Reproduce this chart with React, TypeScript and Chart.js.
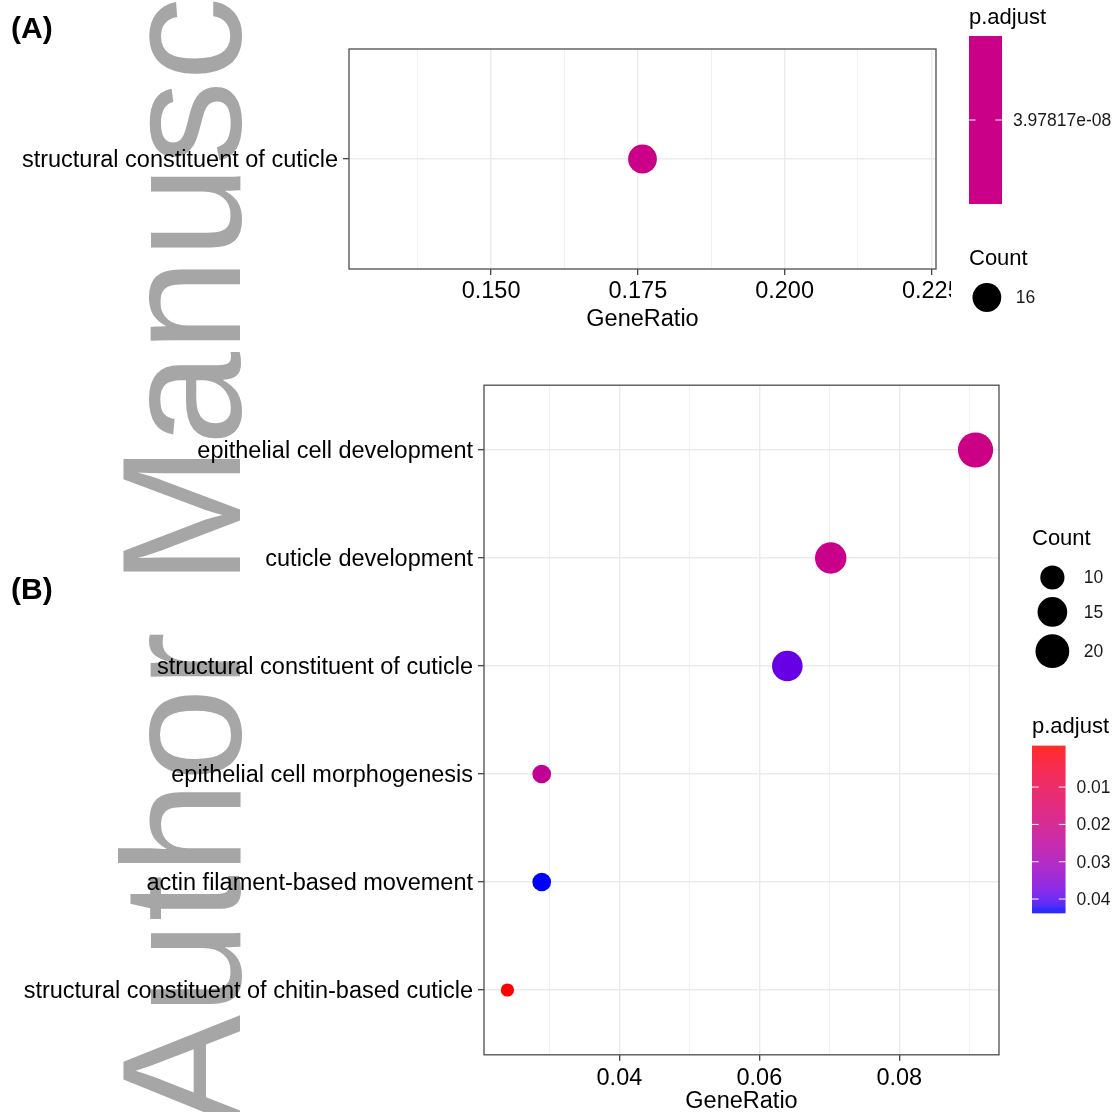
import React, { useEffect, useRef } from "react";
import { Chart, registerables } from "chart.js";

Chart.register(...registerables);

const FONT = "'Liberation Sans', Arial, Helvetica, sans-serif";

// ---------- Panel (A) ----------
const termsA = ["structural constituent of cuticle"];
const geneRatioA = [0.1758];
const countA = [16];
const padjA = [3.97817e-8];
const padjLabelsA = ["3.97817e-08"];
const xMajorA = [0.15, 0.175, 0.2, 0.225];
const xMinorA = [0.1375, 0.1625, 0.1875, 0.2125];
const xLimitsA = [0.1258, 0.2258];

// ---------- Panel (B) ----------
const termsB = [
  "epithelial cell development",
  "cuticle development",
  "structural constituent of cuticle",
  "epithelial cell morphogenesis",
  "actin filament-based movement",
  "structural constituent of chitin-based cuticle",
];
const geneRatioB = [0.0909, 0.0702, 0.064, 0.0289, 0.0289, 0.024];
const countB = [22, 17, 16, 7, 7, 6];
const padjB = [0.0205, 0.0215, 0.0384, 0.0235, 0.0427, 0.00003];
const xMajorB = [0.04, 0.06, 0.08];
const xMinorB = [0.03, 0.05, 0.07, 0.09];
const xLimitsB = [0.02065, 0.09425];
const countBreaksB = [10, 15, 20];
const padjBreaksB = [0.01, 0.02, 0.03, 0.04];
const padjLabelsB = ["0.01", "0.02", "0.03", "0.04"];

// ---------- colour: Lab interpolation red -> blue (ggplot style) ----------
function toLin(c: number) {
  c /= 255;
  return c <= 0.04045 ? c / 12.92 : Math.pow((c + 0.055) / 1.055, 2.4);
}
function fromLin(v: number) {
  v = Math.max(0, Math.min(1, v));
  const c = v <= 0.0031308 ? 12.92 * v : 1.055 * Math.pow(v, 1 / 2.4) - 0.055;
  return Math.round(Math.max(0, Math.min(1, c)) * 255);
}
const XN = 0.95047, ZN = 1.08883;
function rgbToLab(rgb: number[]) {
  const R = toLin(rgb[0]), G = toLin(rgb[1]), B = toLin(rgb[2]);
  const X = (0.4124 * R + 0.3576 * G + 0.1805 * B) / XN;
  const Y = 0.2126 * R + 0.7152 * G + 0.0722 * B;
  const Z = (0.0193 * R + 0.1192 * G + 0.9505 * B) / ZN;
  const f = (t: number) => (t > 0.008856 ? Math.cbrt(t) : 7.787 * t + 16 / 116);
  const fx = f(X), fy = f(Y), fz = f(Z);
  return [116 * fy - 16, 500 * (fx - fy), 200 * (fy - fz)];
}
function labToRgb(lab: number[]) {
  const fy = (lab[0] + 16) / 116;
  const fx = fy + lab[1] / 500;
  const fz = fy - lab[2] / 200;
  const inv = (t: number) => (t * t * t > 0.008856 ? t * t * t : (t - 16 / 116) / 7.787);
  const X = inv(fx) * XN, Y = inv(fy), Z = inv(fz) * ZN;
  const R = 3.2406 * X - 1.5372 * Y - 0.4986 * Z;
  const G = -0.9689 * X + 1.8758 * Y + 0.0415 * Z;
  const B = 0.0557 * X - 0.204 * Y + 1.057 * Z;
  return [fromLin(R), fromLin(G), fromLin(B)];
}
const LAB_LOW = rgbToLab([255, 0, 0]);
const LAB_HIGH = rgbToLab([0, 0, 255]);
function gradColor(t: number) {
  t = Math.max(0, Math.min(1, t));
  const lab = LAB_LOW.map((v, i) => v + (LAB_HIGH[i] - v) * t);
  const c = labToRgb(lab);
  return `rgb(${c[0]},${c[1]},${c[2]})`;
}
function padjColor(v: number, lo: number, hi: number) {
  return gradColor(hi === lo ? 0.5 : (v - lo) / (hi - lo));
}

// ---------- size: ggplot scale_size(range = c(3, 8)) ----------
function dotRadius(c: number, lo: number, hi: number) {
  const t = hi === lo ? 0.5 : (c - lo) / (hi - lo);
  return 2.2 * (3 + 5 * Math.sqrt(Math.max(0, t)));
}

// ---------- legend helpers ----------
function drawColorbar(
  ctx: CanvasRenderingContext2D,
  x: number, y: number, w: number, h: number,
  lo: number, hi: number, breaks: number[], labels: string[]
) {
  const nbin = 20;
  const single = hi === lo;
  for (let r = 0; r < h; r++) {
    let t = 0.5;
    if (!single) {
      const pos = ((r + 0.5) / h) * nbin - 0.5;
      t = Math.min(1, Math.max(0, pos / (nbin - 1)));
    }
    ctx.fillStyle = gradColor(t);
    ctx.fillRect(x, y + r, w, Math.min(1.05, h - r));
  }
  breaks.forEach((v, i) => {
    const ty = single ? y + h / 2 : y + (h * (0.5 + ((nbin - 1) * (v - lo)) / (hi - lo))) / nbin;
    ctx.strokeStyle = "#ffffff";
    ctx.lineWidth = 1;
    ctx.beginPath();
    ctx.moveTo(x, ty);
    ctx.lineTo(x + w / 5, ty);
    ctx.moveTo(x + w - w / 5, ty);
    ctx.lineTo(x + w, ty);
    ctx.stroke();
    ctx.fillStyle = "#1a1a1a";
    ctx.font = `17.5px ${FONT}`;
    ctx.textAlign = "left";
    ctx.textBaseline = "middle";
    ctx.fillText(labels[i], x + w + 11, ty + 1);
  });
}

function drawCountLegend(
  ctx: CanvasRenderingContext2D,
  x: number, titleY: number, radii: number[], labels: string[]
) {
  ctx.fillStyle = "#000";
  ctx.font = `22px ${FONT}`;
  ctx.textAlign = "left";
  ctx.textBaseline = "middle";
  ctx.fillText("Count", x, titleY);
  const half = Math.max(...radii) + 3.5;
  let cy = titleY + 38.5;
  radii.forEach((r, i) => {
    if (i > 0) cy += radii[i - 1] + r + 7.5;
    ctx.fillStyle = "#000";
    ctx.beginPath();
    ctx.arc(x + half, cy, r, 0, Math.PI * 2);
    ctx.fill();
    ctx.fillStyle = "#1a1a1a";
    ctx.font = `17.5px ${FONT}`;
    ctx.fillText(labels[i], x + 2 * half + 11, cy + 1);
  });
}

type PanelSpec = {
  terms: string[];
  ratios: number[];
  counts: number[];
  padj: number[];
  xMajor: number[];
  xMinor: number[];
  xLimits: number[];
  digits: number;
  yAxisWidth: number;
  xAxisHeight: number;
  padTop: number;
  padRight: number;
  tickPad: number;
  titlePadBottom: number;
  legend: (chart: any) => void;
};

function makeConfig(p: PanelSpec): any {
  const cLo = Math.min(...p.counts), cHi = Math.max(...p.counts);
  const pLo = Math.min(...p.padj), pHi = Math.max(...p.padj);
  const isMajor = (v: number) => p.xMajor.some((m) => Math.abs(m - v) < 1e-9);
  const tickFont = { family: FONT, size: 23.5 };
  return {
    type: "scatter",
    data: {
      datasets: [
        {
          data: p.terms.map((_, i) => ({ x: p.ratios[i], y: i })),
          pointRadius: (c: any) => dotRadius(p.counts[c.dataIndex], cLo, cHi),
          pointBackgroundColor: (c: any) => padjColor(p.padj[c.dataIndex], pLo, pHi),
          pointBorderWidth: 0,
          pointHoverRadius: (c: any) => dotRadius(p.counts[c.dataIndex], cLo, cHi),
        },
      ],
    },
    options: {
      animation: false,
      responsive: false,
      devicePixelRatio: 1,
      events: [],
      layout: { padding: { left: 0, top: p.padTop, right: p.padRight, bottom: 0 } },
      plugins: { legend: { display: false }, tooltip: { enabled: false } },
      scales: {
        x: {
          type: "linear",
          bounds: "data",
          min: p.xLimits[0],
          max: p.xLimits[1],
          afterBuildTicks: (s: any) => {
            s.ticks = [...p.xMajor, ...p.xMinor].sort((a, b) => a - b).map((v) => ({ value: v }));
          },
          afterFit: (s: any) => {
            s.height = p.xAxisHeight;
          },
          ticks: {
            autoSkip: false,
            maxRotation: 0,
            padding: p.tickPad,
            color: "#000",
            font: tickFont,
            callback: (v: any) => (isMajor(Number(v)) ? Number(v).toFixed(p.digits) : ""),
          },
          grid: {
            color: (c: any) => (c.tick && isMajor(c.tick.value) ? "#EBEBEB" : "#F1F1F1"),
            lineWidth: (c: any) => (c.tick && isMajor(c.tick.value) ? 1.4 : 1),
            tickColor: (c: any) => (c.tick && isMajor(c.tick.value) ? "#333333" : "rgba(0,0,0,0)"),
            tickLength: 6,
            tickWidth: 1.2,
          },
          border: { display: false },
          title: {
            display: true,
            text: "GeneRatio",
            color: "#000",
            font: { family: FONT, size: 23.5, lineHeight: 1 },
            padding: { top: 0, bottom: p.titlePadBottom },
          },
        },
        y: {
          type: "linear",
          bounds: "data",
          min: -0.6,
          max: p.terms.length - 1 + 0.6,
          reverse: true,
          afterBuildTicks: (s: any) => {
            s.ticks = p.terms.map((_, i) => ({ value: i }));
          },
          afterFit: (s: any) => {
            s.width = p.yAxisWidth;
          },
          ticks: {
            autoSkip: false,
            padding: 5,
            labelOffset: 2,
            color: "#000",
            font: tickFont,
            callback: (v: any) => p.terms[Number(v)] ?? "",
          },
          grid: {
            color: "#EBEBEB",
            lineWidth: 1.4,
            tickColor: "#333333",
            tickLength: 6,
            tickWidth: 1.2,
          },
          border: { display: false },
        },
      },
    },
    plugins: [
      {
        id: "panelFrameAndLegend",
        afterDraw(chart: any) {
          const { ctx, chartArea } = chart;
          ctx.save();
          ctx.strokeStyle = "#4d4d4d";
          ctx.lineWidth = 1.3;
          ctx.strokeRect(chartArea.left, chartArea.top, chartArea.right - chartArea.left, chartArea.bottom - chartArea.top);
          p.legend(chart);
          ctx.restore();
        },
      },
    ],
  };
}

const W = 1113;
const H = 1112;
const B_OFFSET = 340;

export default function App() {
  const bgRef = useRef<HTMLCanvasElement>(null);
  const aRef = useRef<HTMLCanvasElement>(null);
  const bRef = useRef<HTMLCanvasElement>(null);

  useEffect(() => {
    const bg = bgRef.current!;
    const g = bg.getContext("2d")!;
    g.fillStyle = "#ffffff";
    g.fillRect(0, 0, W, H);
    // watermark
    g.save();
    g.translate(240, 1127);
    g.rotate(-Math.PI / 2);
    g.font = `168px ${FONT}`;
    g.fillStyle = "#a6a6a6";
    g.textAlign = "left";
    g.textBaseline = "alphabetic";
    g.fillText("Author Manuscript", 0, 0);
    g.restore();
    // panel tags
    g.font = `bold 30px ${FONT}`;
    g.fillStyle = "#000";
    g.textAlign = "left";
    g.textBaseline = "middle";
    g.fillText("(A)", 11, 30);
    g.fillText("(B)", 11, 591);

    const cfgA = makeConfig({
      terms: termsA,
      ratios: geneRatioA,
      counts: countA,
      padj: padjA,
      xMajor: xMajorA,
      xMinor: xMinorA,
      xLimits: xLimitsA,
      digits: 3,
      yAxisWidth: 349,
      xAxisHeight: 71,
      padTop: 49,
      padRight: 177,
      tickPad: 2,
      titlePadBottom: 9,
      legend: (chart: any) => {
        const { ctx, chartArea } = chart;
        // ggplot clips the last tick label at the legend box
        ctx.clearRect(chartArea.right + 15, chartArea.bottom + 4, 24, 34);
        const L = chartArea.right + 33;
        ctx.fillStyle = "#000";
        ctx.font = `22px ${FONT}`;
        ctx.textAlign = "left";
        ctx.textBaseline = "middle";
        ctx.fillText("p.adjust", L, 18);
        drawColorbar(ctx, L, 36, 33, 168, padjA[0], padjA[0], [padjA[0]], padjLabelsA);
        drawCountLegend(ctx, L, 259, [dotRadius(countA[0], countA[0], countA[0])], countA.map(String));
      },
    });

    const cLo = Math.min(...countB), cHi = Math.max(...countB);
    const pLo = Math.min(...padjB), pHi = Math.max(...padjB);
    const cfgB = makeConfig({
      terms: termsB,
      ratios: geneRatioB,
      counts: countB,
      padj: padjB,
      xMajor: xMajorB,
      xMinor: xMinorB,
      xLimits: xLimitsB,
      digits: 2,
      yAxisWidth: 484,
      xAxisHeight: 57.2,
      padTop: 45.2,
      padRight: 114,
      tickPad: 4,
      titlePadBottom: -1,
      legend: (chart: any) => {
        const { ctx, chartArea } = chart;
        const L = chartArea.right + 33;
        drawCountLegend(
          ctx, L, 539 - B_OFFSET,
          countBreaksB.map((c) => dotRadius(c, cLo, cHi)),
          countBreaksB.map(String)
        );
        ctx.fillStyle = "#000";
        ctx.font = `22px ${FONT}`;
        ctx.textAlign = "left";
        ctx.textBaseline = "middle";
        ctx.fillText("p.adjust", L, 727 - B_OFFSET);
        drawColorbar(ctx, L, 745.7 - B_OFFSET, 33.5, 167.6, pLo, pHi, padjBreaksB, padjLabelsB);
      },
    });

    const chartA = new Chart(aRef.current!, cfgA);
    const chartB = new Chart(bRef.current!, cfgB);
    return () => {
      chartA.destroy();
      chartB.destroy();
    };
  }, []);

  return (
    <div
      style={{
        position: "fixed",
        left: 0,
        top: 0,
        width: W,
        height: H,
        overflow: "hidden",
        background: "#fff",
      }}
    >
      <canvas ref={bgRef} width={W} height={H} style={{ position: "absolute", left: 0, top: 0 }} />
      <canvas ref={aRef} width={W} height={B_OFFSET} style={{ position: "absolute", left: 0, top: 0 }} />
      <canvas
        ref={bRef}
        width={W}
        height={H - B_OFFSET}
        style={{ position: "absolute", left: 0, top: B_OFFSET }}
      />
    </div>
  );
}
